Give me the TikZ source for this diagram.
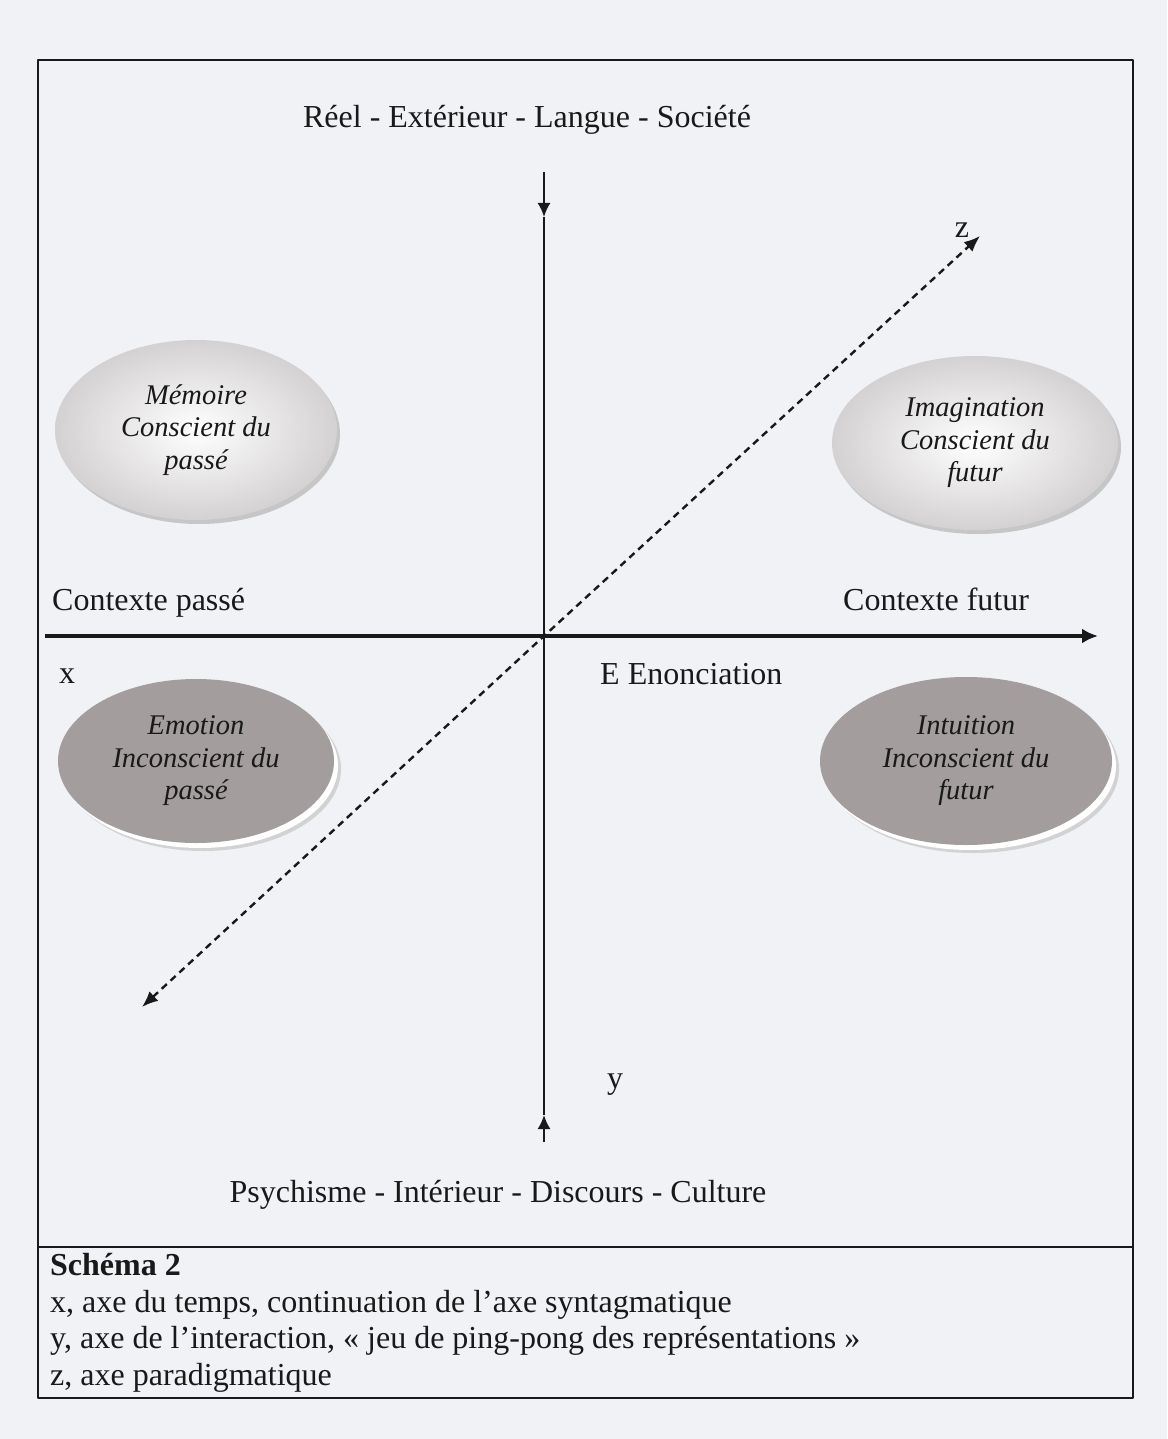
\documentclass[tikz,border=0pt]{standalone}
\usepackage{fontspec}
\setmainfont{Liberation Serif}
\usetikzlibrary{%
  arrows.meta,%
  positioning,%
  shapes.geometric,% ellipse
  shadows%
}
\definecolor{paper}{RGB}{240,242,246}
\definecolor{ink}{RGB}{25,25,25}
\definecolor{darkoval}{RGB}{163,157,157}
\definecolor{lightoval}{RGB}{212,209,211}

\begin{document}
\begin{tikzpicture}[
    x=1pt,y=-1pt,
    line join=round,
    txt/.style={font=\fontsize{32}{37}\selectfont,inner sep=0pt,text=ink},
    oval/.style={ellipse,inner sep=0pt,align=center,text=ink,
        font=\fontsize{28.5}{32.5}\selectfont\itshape},
    conscious/.style={oval,shading=radial,inner color=white,outer color=lightoval,
        drop shadow={shadow xshift=3pt,shadow yshift=-4pt,fill=gray!45,opacity=1}},
    unconscious/.style={oval,fill=darkoval,
        drop shadow={shadow xshift=7pt,shadow yshift=-8pt,fill=gray!35,opacity=1},
        drop shadow={shadow xshift=4pt,shadow yshift=-5pt,fill=white,opacity=1}},
    frame/.style={draw=ink,line width=1.8pt},
    haxis/.style={draw=ink,line width=3.4pt,-{Latex[length=16pt,width=15pt]}},
    vaxis/.style={draw=ink,line width=2pt},
    vtip/.style={vaxis,-{Latex[length=14pt,width=13pt]}},
    zaxis/.style={draw=ink,line width=2.4pt,dash pattern=on 7pt off 5pt,
        {Latex[length=16pt,width=13pt]}-{Latex[length=16pt,width=13pt]}}
  ]

    \fill[paper] (0,0) rectangle (1167,1439);
    \useasboundingbox (0,0) rectangle (1167,1439);

    % cadre
    \coordinate (nw) at (38,60);
    \coordinate (se) at (1133,1398);
    \coordinate (capl) at (38,1247);
    \coordinate (capr) at (1133,1247);
    \draw[frame] (nw) rectangle (se);
    \draw[frame] (capl) -- (capr);

    % ellipses
    \node[conscious,minimum width=282pt,minimum height=180pt]   (memoire)     at (196,430) {Mémoire\\Conscient du\\passé};
    \node[conscious,minimum width=286pt,minimum height=174pt]   (imagination) at (975,443) {Imagination\\Conscient du\\futur};
    \node[unconscious,minimum width=276pt,minimum height=164pt] (emotion)     at (196,761) {Emotion\\Inconscient du\\passé};
    \node[unconscious,minimum width=292pt,minimum height=168pt] (intuition)   at (966,761) {Intuition\\Inconscient du\\futur};

    % axes
    \coordinate (origin) at (544,636);
    \coordinate (xstart) at (45,636);
    \coordinate (xend)   at (1098,636);
    \coordinate (ytop)   at (544,172);
    \coordinate (yin)    at (544,217);
    \coordinate (yout)   at (544,1115);
    \coordinate (ybot)   at (544,1142);
    \coordinate (zlow)   at (142,1007);
    \coordinate (zhigh)  at (980,236);

    \draw[zaxis] (zlow) -- (origin) -- (zhigh);
    \draw[haxis] (xstart) -- (xend);
    \draw[vtip] (ytop) -- (yin);
    \draw[vaxis] (yin) -- (yout);
    \draw[vtip] (ybot) -- (yout);

    % textes
    \node[txt,anchor=base]      (reel)   at (527,128)  {Réel - Extérieur - Langue - Société};
    \node[txt,anchor=base west] (past)   at (52,610)   {Contexte passé};
    \node[txt,anchor=base west] (future) at (843,610)  {Contexte futur};
    \node[txt,anchor=base]      (xlab)   at (67,683)   {x};
    \node[txt,anchor=base west] (enon)   at (600,684)  {E Enonciation};
    \node[txt,anchor=base]      (ylab)   at (615,1088) {y};
    \node[txt,anchor=base]      (zlab)   at (962,237)  {z};
    \node[txt,anchor=base]      (psy)    at (498,1202) {Psychisme - Intérieur - Discours - Culture};

    % legende
    \node[txt,anchor=base west,font=\fontsize{32}{37}\selectfont\bfseries] (title) at (50,1275) {Schéma 2};
    \node[txt,anchor=base west] (capx) at (50,1312) {x, axe du temps, continuation de l'axe syntagmatique};
    \node[txt,anchor=base west] (capy) at (50,1348) {y, axe de l'interaction, « jeu de ping-pong des représentations »};
    \node[txt,anchor=base west] (capz) at (50,1385) {z, axe paradigmatique};
\end{tikzpicture}
\end{document}
